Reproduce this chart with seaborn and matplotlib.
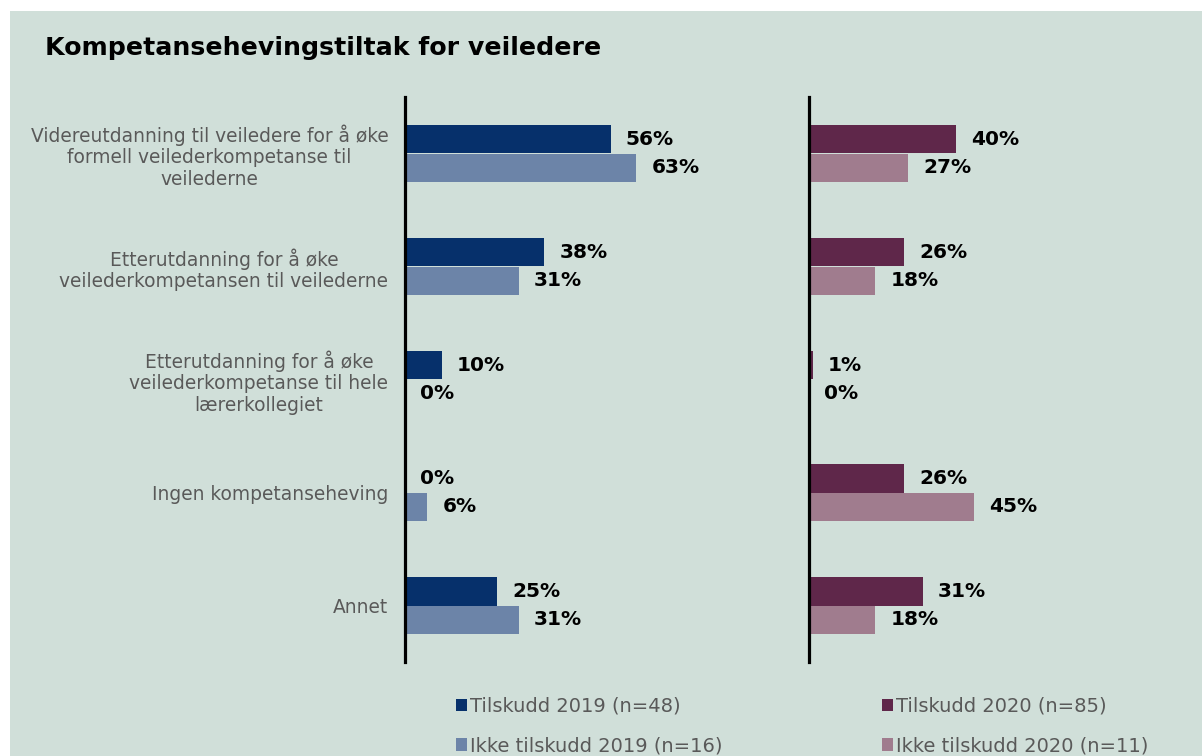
import pandas as pd
import matplotlib.pyplot as plt
import seaborn as sns
from matplotlib.patches import Patch, Rectangle

# data
kategorier = [
    "Videreutdanning til veiledere for å øke\nformell veilederkompetanse til\nveilederne",
    "Etterutdanning for å øke\nveilederkompetansen til veilederne",
    "Etterutdanning for å øke\nveilederkompetanse til hele\nlærerkollegiet",
    "Ingen kompetanseheving",
    "Annet",
]
tilskudd_2019 = [56, 38, 10, 0, 25]
ikke_tilskudd_2019 = [63, 31, 0, 6, 31]
tilskudd_2020 = [40, 26, 1, 26, 31]
ikke_tilskudd_2020 = [27, 18, 0, 45, 18]

serier_2019 = ["Tilskudd 2019 (n=48)", "Ikke tilskudd 2019 (n=16)"]
serier_2020 = ["Tilskudd 2020 (n=85)", "Ikke tilskudd 2020 (n=11)"]
farger_2019 = ["#06306B", "#6C84A8"]
farger_2020 = ["#5F274A", "#A07C8E"]

bg = "#D0DFD9"
grey = "#595959"

df19 = pd.DataFrame({
    "kategori": kategorier * 2,
    "andel": tilskudd_2019 + ikke_tilskudd_2019,
    "gruppe": [serier_2019[0]] * 5 + [serier_2019[1]] * 5,
})
df20 = pd.DataFrame({
    "kategori": kategorier * 2,
    "andel": tilskudd_2020 + ikke_tilskudd_2020,
    "gruppe": [serier_2020[0]] * 5 + [serier_2020[1]] * 5,
})

sns.set_style("white")
plt.rcParams["font.family"] = ["DejaVu Sans"]

W, H = 1202, 756
fig = plt.figure(figsize=(W / 100, H / 100), dpi=100)
fig.patch.set_facecolor("white")
fig.patches.append(Rectangle((10 / W, 0), 1 - 10 / W, 1 - 11 / H,
                             transform=fig.transFigure, facecolor=bg,
                             edgecolor="none", zorder=-10))

bottom = 1 - 662 / H
height = 565 / H
ax1 = fig.add_axes([405 / W, bottom, 367 / W, height])
ax2 = fig.add_axes([809 / W, bottom, 367 / W, height])

for ax, d, serier, farger in [(ax1, df19, serier_2019, farger_2019),
                              (ax2, df20, serier_2020, farger_2020)]:
    sns.barplot(data=d, x="andel", y="kategori", hue="gruppe",
                hue_order=serier, palette=farger, order=kategorier,
                orient="h", width=0.513, saturation=1, legend=False,
                edgecolor="none", linewidth=0, ax=ax)
    ax.set_facecolor("none")
    ax.set_xlim(0, 100)
    ax.set_ylim(4.5, -0.5)
    ax.set_xlabel("")
    ax.set_ylabel("")
    ax.set_xticks([])
    for s in ["top", "right", "bottom"]:
        ax.spines[s].set_visible(False)
    ax.spines["left"].set_color("black")
    ax.spines["left"].set_linewidth(2.3)
    for c in ax.containers:
        ax.bar_label(c, fmt="%.0f%%", padding=11, fontsize=14.5,
                     fontweight="bold", color="black")

ax1.tick_params(axis="y", length=0, pad=12, labelsize=13.4, labelcolor=grey)
plt.setp(ax1.get_yticklabels(), multialignment="center", linespacing=1.15)
ax2.set_yticks([])

fig.text(45 / W, 1 - 48 / H, "Kompetansehevingstiltak for veiledere",
         fontsize=18.2, fontweight="bold", va="center", ha="left",
         color="black")

for x0, serier, farger in [(456, serier_2019, farger_2019),
                           (882, serier_2020, farger_2020)]:
    handles = [Patch(facecolor=f, edgecolor="none") for f in farger]
    leg = fig.legend(handles, serier, loc="upper left",
                     bbox_to_anchor=(x0 / W, 1 - 697 / H), frameon=False,
                     fontsize=14, handlelength=0.55, handleheight=0.6,
                     handletextpad=0.15, labelspacing=1.05, borderpad=0,
                     borderaxespad=0)
    for t in leg.get_texts():
        t.set_color(grey)

fig.savefig("out.png", dpi=100, facecolor=fig.get_facecolor())
